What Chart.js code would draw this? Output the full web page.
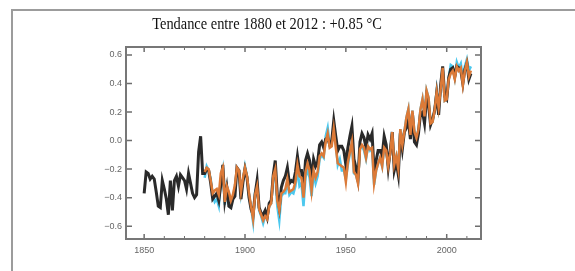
<!DOCTYPE html>
<html lang="fr">
<head>
    <meta charset="UTF-8">
    <title>Tendance entre 1880 et 2012</title>
    <script src="https://cdn.jsdelivr.net/npm/chart.js"></script>
    <style>
        html, body { margin: 0; padding: 0; overflow: hidden; background: #fff; }
        canvas { display: block; }
    </style>
</head>
<body>
    <canvas id="tempChart" width="575" height="271"></canvas>
    <script>
        const titleText = 'Tendance entre 1880 et 2012 : +0.85 °C';

        // HadCRUT4 (noir), 1850-2012
        const blackStart = 1850;
        const blackValues = [
            -0.37, -0.22, -0.23, -0.27, -0.25, -0.27, -0.36, -0.46, -0.47, -0.28,
            -0.34, -0.41, -0.52, -0.28, -0.49, -0.28, -0.25, -0.32, -0.24, -0.26,
            -0.28, -0.34, -0.23, -0.30, -0.37, -0.40, -0.38, -0.08, 0.03, -0.23,
            -0.23, -0.20, -0.21, -0.30, -0.41, -0.39, -0.37, -0.42, -0.31, -0.17,
            -0.42, -0.33, -0.46, -0.47, -0.41, -0.39, -0.19, -0.21, -0.41, -0.29,
            -0.20, -0.26, -0.40, -0.48, -0.52, -0.38, -0.28, -0.47, -0.51, -0.52,
            -0.49, -0.54, -0.44, -0.42, -0.24, -0.14, -0.38, -0.47, -0.33, -0.28,
            -0.25, -0.19, -0.30, -0.28, -0.29, -0.22, -0.11, -0.21, -0.21, -0.35,
            -0.14, -0.09, -0.14, -0.27, -0.13, -0.18, -0.15, -0.03, -0.01, -0.05,
            0.01, 0.02, -0.03, 0.00, 0.14, 0.03, -0.07, -0.04, -0.04, -0.07,
            -0.17, -0.05, 0.03, 0.10, -0.13, -0.19, -0.27, -0.01, 0.05, 0.02,
            -0.05, 0.04, 0.01, 0.05, -0.22, -0.14, -0.07, -0.07, -0.11, 0.03,
            -0.03, -0.19, -0.07, 0.06, -0.21, -0.15, -0.24, 0.05, -0.06, 0.06,
            0.09, 0.14, 0.01, 0.19, -0.01, -0.03, 0.05, 0.19, 0.20, 0.12,
            0.30, 0.25, 0.11, 0.15, 0.21, 0.33, 0.18, 0.39, 0.52, 0.31,
            0.29, 0.44, 0.50, 0.51, 0.45, 0.52, 0.51, 0.49, 0.40, 0.50,
            0.54, 0.43, 0.47
        ];

        // MLOST (orange), 1880-2012
        const orangeStart = 1880;
        const orangeValues = [
            -0.22, -0.19, -0.20, -0.28, -0.37, -0.35, -0.34, -0.38, -0.23, -0.19,
            -0.43, -0.32, -0.36, -0.42, -0.38, -0.31, -0.19, -0.21, -0.36, -0.26,
            -0.19, -0.25, -0.37, -0.46, -0.55, -0.38, -0.32, -0.48, -0.52, -0.56,
            -0.53, -0.55, -0.46, -0.44, -0.25, -0.20, -0.42, -0.49, -0.37, -0.36,
            -0.34, -0.27, -0.36, -0.35, -0.34, -0.29, -0.17, -0.25, -0.26, -0.40,
            -0.22, -0.16, -0.21, -0.35, -0.21, -0.26, -0.22, -0.11, -0.09, -0.11,
            -0.01, 0.05, -0.05, -0.04, 0.08, -0.05, -0.16, -0.17, -0.18, -0.19,
            -0.29, -0.15, -0.08, -0.01, -0.22, -0.24, -0.30, -0.06, -0.03, -0.05,
            -0.12, -0.04, -0.06, -0.05, -0.30, -0.21, -0.16, -0.12, -0.18, -0.05,
            -0.07, -0.18, -0.09, 0.06, -0.17, -0.11, -0.20, 0.08, -0.03, 0.06,
            0.16, 0.22, 0.04, 0.21, 0.06, 0.02, 0.08, 0.22, 0.29, 0.17,
            0.35, 0.30, 0.12, 0.13, 0.21, 0.34, 0.23, 0.36, 0.51, 0.28,
            0.29, 0.43, 0.47, 0.49, 0.43, 0.52, 0.49, 0.51, 0.39, 0.49,
            0.55, 0.45, 0.49
        ];

        // GISS (bleu clair), 1880-2012
        const cyanStart = 1880;
        const cyanValues = [
            -0.26, -0.18, -0.21, -0.27, -0.38, -0.43, -0.41, -0.46, -0.27, -0.20,
            -0.45, -0.32, -0.37, -0.41, -0.40, -0.32, -0.21, -0.21, -0.37, -0.27,
            -0.18, -0.25, -0.38, -0.47, -0.57, -0.36, -0.32, -0.49, -0.53, -0.58,
            -0.53, -0.54, -0.46, -0.44, -0.25, -0.24, -0.46, -0.56, -0.39, -0.37,
            -0.37, -0.29, -0.38, -0.36, -0.37, -0.32, -0.20, -0.32, -0.30, -0.46,
            -0.26, -0.20, -0.26, -0.39, -0.23, -0.30, -0.25, -0.13, -0.10, -0.12,
            0.03, 0.09, -0.03, -0.01, 0.10, -0.01, -0.17, -0.13, -0.21, -0.21,
            -0.27, -0.17, -0.09, -0.02, -0.23, -0.24, -0.29, -0.05, -0.04, -0.07,
            -0.13, -0.04, -0.07, -0.05, -0.31, -0.21, -0.16, -0.12, -0.18, -0.05,
            -0.07, -0.18, -0.09, 0.06, -0.17, -0.11, -0.20, 0.08, -0.03, 0.06,
            0.16, 0.22, 0.04, 0.21, 0.06, 0.02, 0.08, 0.22, 0.29, 0.17,
            0.35, 0.30, 0.12, 0.13, 0.21, 0.35, 0.23, 0.36, 0.51, 0.28,
            0.29, 0.44, 0.53, 0.52, 0.44, 0.55, 0.51, 0.54, 0.44, 0.52,
            0.57, 0.49, 0.52
        ];

        const xLabelTicks = [1850, 1900, 1950, 2000];
        const xMinorTicks = [1860, 1870, 1880, 1890, 1910, 1920, 1930, 1940, 1960, 1970, 1980, 1990, 2010];
        const yTicks = [-0.6, -0.4, -0.2, 0.0, 0.2, 0.4, 0.6];

        const toPoints = (start, values) => values.map((v, i) => ({ x: start + i, y: v }));

        // cadre extérieur, cadre du graphique, graduations vers l'intérieur, titre
        const framePlugin = {
            id: 'frame',
            beforeDraw(chart) {
                const ctx = chart.ctx;
                ctx.save();
                ctx.strokeStyle = '#9c9c9c';
                ctx.lineWidth = 2;
                ctx.beginPath();
                ctx.moveTo(12, chart.height + 5);
                ctx.lineTo(12, 10);
                ctx.lineTo(chart.width + 5, 10);
                ctx.stroke();
                ctx.restore();
            },
            afterDatasetsDraw(chart) {
                const { ctx, chartArea: a, scales } = chart;
                ctx.save();
                ctx.strokeStyle = '#6e6e6e';
                ctx.lineWidth = 1.5;
                ctx.beginPath();
                xLabelTicks.forEach(v => {
                    const px = scales.x.getPixelForValue(v);
                    ctx.moveTo(px, a.bottom); ctx.lineTo(px, a.bottom - 5);
                    ctx.moveTo(px, a.top); ctx.lineTo(px, a.top + 5);
                });
                yTicks.forEach(v => {
                    const py = scales.y.getPixelForValue(v);
                    ctx.moveTo(a.left, py); ctx.lineTo(a.left + 6, py);
                    ctx.moveTo(a.right, py); ctx.lineTo(a.right - 6, py);
                });
                ctx.stroke();
                ctx.lineWidth = 1;
                ctx.beginPath();
                xMinorTicks.forEach(v => {
                    const px = scales.x.getPixelForValue(v);
                    ctx.moveTo(px, a.bottom); ctx.lineTo(px, a.bottom - 3);
                    ctx.moveTo(px, a.top); ctx.lineTo(px, a.top + 3);
                });
                ctx.stroke();
                ctx.lineWidth = 2;
                ctx.strokeStyle = '#777';
                ctx.strokeRect(a.left, a.top, a.right - a.left, a.bottom - a.top);
                ctx.restore();
            },
            afterDraw(chart) {
                const ctx = chart.ctx;
                ctx.save();
                ctx.fillStyle = '#111';
                ctx.font = '16px "Liberation Serif", serif';
                ctx.textAlign = 'center';
                ctx.textBaseline = 'alphabetic';
                ctx.translate(267, 29);
                ctx.scale(0.9, 1);
                ctx.fillText(titleText, 0, 0);
                ctx.restore();
            }
        };

        const ctx = document.getElementById('tempChart').getContext('2d');
        const chart = new Chart(ctx, {
            type: 'line',
            data: {
                datasets: [
                    {
                        label: 'MLOST',
                        data: toPoints(orangeStart, orangeValues),
                        borderColor: '#dc7a38',
                        borderWidth: 2.5,
                        pointRadius: 0,
                        tension: 0
                    },
                    {
                        label: 'HadCRUT4',
                        data: toPoints(blackStart, blackValues),
                        borderColor: '#2a2a2a',
                        borderWidth: 3,
                        pointRadius: 0,
                        tension: 0
                    },
                    {
                        label: 'GISS',
                        data: toPoints(cyanStart, cyanValues),
                        borderColor: '#4cc8ee',
                        borderWidth: 2.5,
                        pointRadius: 0,
                        tension: 0
                    }
                ]
            },
            options: {
                responsive: false,
                animation: false,
                layout: { padding: { left: 96, right: 94, top: 47, bottom: 12 } },
                plugins: {
                    legend: { display: false },
                    title: { display: false },
                    tooltip: { enabled: false }
                },
                scales: {
                    x: {
                        type: 'linear',
                        min: 1841,
                        max: 2017,
                        afterBuildTicks: s => { s.ticks = xLabelTicks.map(v => ({ value: v })); },
                        afterFit: s => { s.height = 20; },
                        grid: { display: false, drawTicks: false },
                        border: { display: false },
                        ticks: {
                            autoSkip: false,
                            maxRotation: 0,
                            padding: 6,
                            color: '#666',
                            font: { family: '"Liberation Sans", Arial', size: 9 },
                            callback: v => String(v)
                        }
                    },
                    y: {
                        min: -0.69,
                        max: 0.656,
                        afterBuildTicks: s => { s.ticks = yTicks.map(v => ({ value: v })); },
                        afterFit: s => { s.width = 30; },
                        grid: { display: false, drawTicks: false },
                        border: { display: false },
                        ticks: {
                            padding: 4,
                            color: '#666',
                            font: { family: '"Liberation Sans", Arial', size: 9 },
                            callback: v => (v < 0 ? '\u2212' : '') + Math.abs(v).toFixed(1)
                        }
                    }
                }
            },
            plugins: [framePlugin]
        });
    </script>
</body>
</html>
